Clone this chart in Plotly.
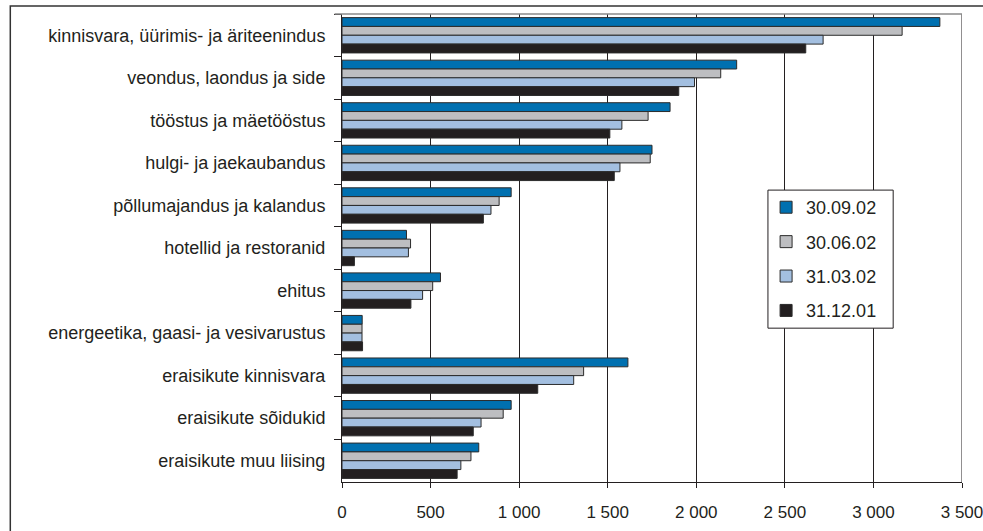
import plotly.graph_objects as go

categories = [
    "kinnisvara, üürimis- ja äriteenindus",
    "veondus, laondus ja side",
    "tööstus ja mäetööstus",
    "hulgi- ja jaekaubandus",
    "põllumajandus ja kalandus",
    "hotellid ja restoranid",
    "ehitus",
    "energeetika, gaasi- ja vesivarustus",
    "eraisikute kinnisvara",
    "eraisikute sõidukid",
    "eraisikute muu liising",
]

series_names = ["30.09.02", "30.06.02", "31.03.02", "31.12.01"]

v_300902 = [3375, 2228, 1852, 1750, 955, 364, 556, 114, 1614, 955, 772]
v_300602 = [3162, 2138, 1728, 1740, 887, 387, 512, 113, 1364, 910, 728]
v_310302 = [2716, 1990, 1580, 1569, 841, 375, 455, 113, 1308, 785, 671]
v_311201 = [2618, 1901, 1512, 1537, 798, 70, 389, 116, 1105, 741, 650]

series_values = [v_300902, v_300602, v_310302, v_311201]
series_colors = ["#0070B0", "#BDBEC1", "#A3BFE0", "#231F20"]

x_ticks = [0, 500, 1000, 1500, 2000, 2500, 3000, 3500]

FONT = "Liberation Sans, Arial, sans-serif"
INK = "#231F20"

fig = go.Figure()
for name, vals, col in zip(series_names, series_values, series_colors):
    fig.add_trace(go.Bar(
        y=categories,
        x=vals,
        name=name,
        orientation="h",
        legendgroup=name,
        marker=dict(color=col, line=dict(color="#2b2b2b", width=1)),
    ))

fig.update_layout(
    template="none",
    width=983,
    height=531,
    margin=dict(l=342, r=21, t=14, b=49, pad=0, autoexpand=False),
    paper_bgcolor="white",
    plot_bgcolor="white",
    barmode="group",
    bargap=0.17,
    bargroupgap=0.0,
    separators=", ",
    font=dict(family=FONT, size=17, color=INK),
    showlegend=True,
    legend=dict(
        x=0.684, y=0.626, xanchor="left", yanchor="top",
        bgcolor="rgba(0,0,0,0)", borderwidth=0,
        traceorder="grouped", tracegroupgap=8,
        font=dict(family=FONT, size=18, color=INK),
    ),
    xaxis=dict(
        range=[0, x_ticks[-1]],
        tickvals=x_ticks,
        tickformat=",d",
        automargin=False,
        ticklabeloverflow="allow",
        showgrid=True, gridcolor=INK, gridwidth=1,
        zeroline=False,
        showline=True, linecolor=INK, linewidth=1,
        ticks="outside", ticklen=5, tickcolor=INK,
        ticklabelstandoff=10,
        tickfont=dict(family=FONT, size=17, color=INK),
        fixedrange=True,
    ),
    yaxis=dict(
        autorange="reversed",
        type="category",
        automargin=False,
        tickson="boundaries",
        ticks="outside", ticklen=7, tickcolor=INK,
        showgrid=False,
        showline=True, linecolor=INK, linewidth=1,
        ticklabelstandoff=12,
        tickfont=dict(family=FONT, size=18, color=INK),
        fixedrange=True,
    ),
    shapes=[
        # outer frame around the chart
        dict(type="rect", xref="paper", yref="paper",
             x0=-0.535, x1=1.2, y0=-0.3, y1=1.017,
             line=dict(color="#333333", width=1.5), fillcolor="rgba(0,0,0,0)"),
        # light top edge of the plot area
        dict(type="line", xref="paper", yref="paper",
             x0=-0.012, x1=1.0, y0=1.0, y1=1.0,
             line=dict(color="#8a8a8a", width=1.5)),
        # closing gridline at the end of the value range
        dict(type="line", xref="x", yref="paper",
             x0=x_ticks[-1], x1=x_ticks[-1], y0=0, y1=1,
             line=dict(color=INK, width=1), layer="below"),
        # legend box
        dict(type="rect", xref="paper", yref="paper",
             x0=0.687, x1=0.889, y0=0.3287, y1=0.6237,
             line=dict(color=INK, width=1), fillcolor="white", layer="above"),
    ],
)

fig.write_html("out.html")
